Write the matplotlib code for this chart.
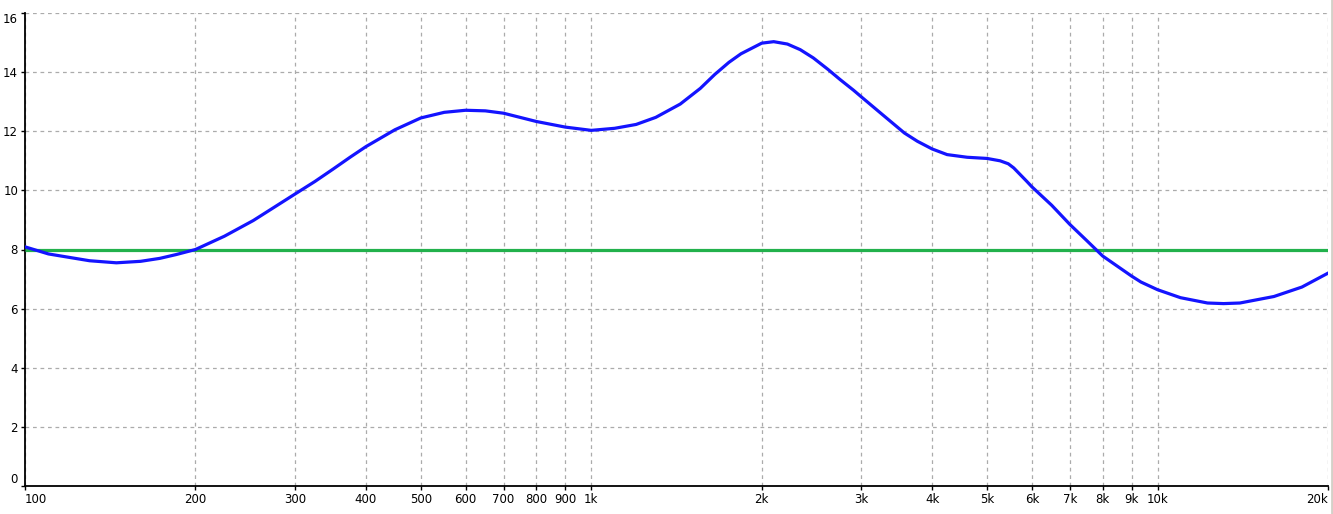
import numpy as np
import matplotlib
matplotlib.use("Agg")
import matplotlib.pyplot as plt
from matplotlib.lines import Line2D

# frequency response (Hz, dB)
freq = [100, 110, 120, 130, 145, 160, 173, 185, 200, 225, 253, 275, 300, 325,
        350, 375, 400, 450, 500, 550, 600, 650, 700, 800, 900, 1000, 1100,
        1200, 1300, 1436, 1558, 1652, 1750, 1838, 2000, 2100, 2220, 2339,
        2467, 2619, 2750, 2904, 3000, 3250, 3573, 3767, 4000, 4250, 4611,
        5000, 5272, 5450, 5572, 5873, 6000, 6500, 7000, 7500, 8000, 9000,
        9347, 10000, 10978, 12253, 13080, 13978, 16053, 17988, 20000]
response = [8.09, 7.85, 7.73, 7.62, 7.55, 7.6, 7.7, 7.83, 8.0, 8.45, 8.98, 9.42,
            9.88, 10.3, 10.72, 11.12, 11.48, 12.05, 12.45, 12.64, 12.71, 12.69,
            12.61, 12.33, 12.14, 12.03, 12.1, 12.23, 12.47, 12.92, 13.45, 13.92,
            14.33, 14.62, 14.98, 15.03, 14.95, 14.76, 14.48, 14.09, 13.75,
            13.39, 13.16, 12.6, 11.94, 11.66, 11.4, 11.21, 11.12, 11.08, 11.0,
            10.9, 10.76, 10.31, 10.12, 9.5, 8.85, 8.3, 7.78, 7.1, 6.9, 6.64,
            6.37, 6.19, 6.17, 6.19, 6.41, 6.73, 7.2]
reference_level = 8

x_ticks = [100, 200, 300, 400, 500, 600, 700, 800, 900, 1000, 2000, 3000,
           4000, 5000, 6000, 7000, 8000, 9000, 10000, 20000]
x_labels = ["100", "200", "300", "400", "500", "600", "700", "800", "900", "1k",
            "2k", "3k", "4k", "5k", "6k", "7k", "8k", "9k", "10k", "20k"]
y_ticks = [0, 2, 4, 6, 8, 10, 12, 14, 16]

fig = plt.figure(figsize=(13.33, 5.14), dpi=100)
ax = fig.add_axes([25 / 1333, 28 / 514, 1303 / 1333, 473 / 514])

ax.plot([freq[0], freq[-1]], [reference_level, reference_level],
        color="#22b14c", lw=2.3, zorder=3, solid_capstyle="butt")
ax.plot(freq, response, color="#1414ff", lw=2.3, zorder=4,
        solid_joinstyle="round")

ax.set_xscale("log")
ax.set_xlim(100, 20000)
ax.set_ylim(0, 16)
ax.set_xticks(x_ticks)
ax.set_xticklabels(x_labels)
ax.xaxis.set_minor_locator(matplotlib.ticker.NullLocator())
ax.set_yticks(y_ticks)
ax.set_yticklabels([str(v) for v in y_ticks])

for spine in ["top", "right"]:
    ax.spines[spine].set_visible(False)
for spine in ["left", "bottom"]:
    ax.spines[spine].set_linewidth(1.3)

ax.grid(True, color="#ababab", linestyle=(0, (3, 3)), linewidth=0.9)
ax.set_axisbelow(True)
ax.tick_params(axis="both", length=3, width=1, labelsize=8.5, pad=2)

labels = ax.get_xticklabels()
labels[0].set_horizontalalignment("left")
labels[-1].set_horizontalalignment("right")
ylabels = ax.get_yticklabels()
ylabels[0].set_verticalalignment("bottom")
ylabels[-1].set_verticalalignment("top")

# light frame line on the right edge
fig.add_artist(Line2D([1331.5 / 1333, 1331.5 / 1333], [0, 1],
                      transform=fig.transFigure, color="#d4d0c8", lw=2))

fig.savefig("out.png", dpi=100)
